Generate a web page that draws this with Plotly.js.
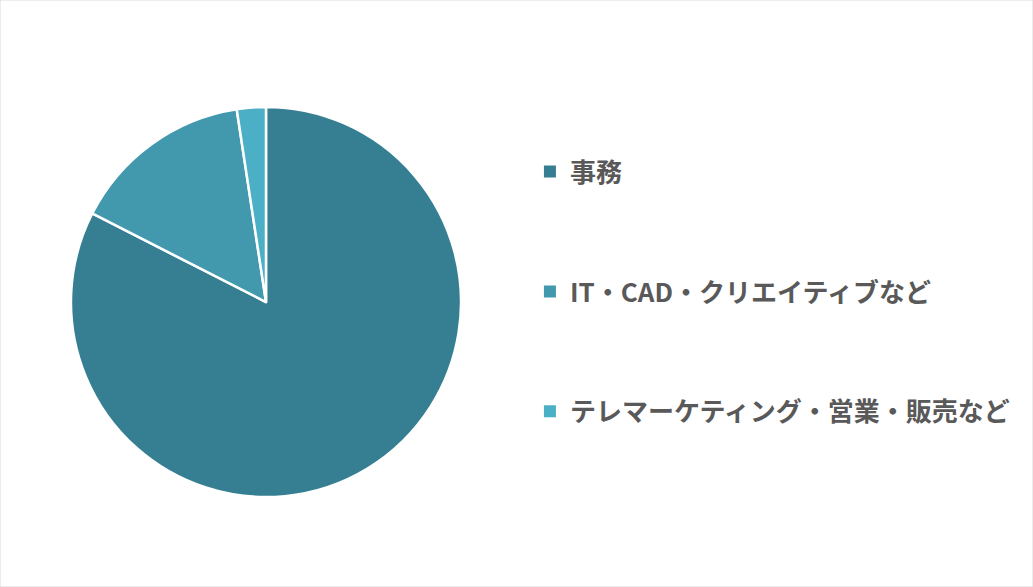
<!DOCTYPE html>
<html>
<head>
<meta charset="utf-8">
<script src="https://cdn.plot.ly/plotly-3.0.1.min.js"></script>
<style>
  html, body { margin: 0; padding: 0; background: #fff; }
  #chart { width: 1033px; height: 587px; }
</style>
</head>
<body>
<div id="chart"></div>
<script>
// slices, clockwise from 12 o'clock
const labels = ["事務", "IT・CAD・クリエイティブなど", "テレマーケティング・営業・販売など"];
const shares = [82.5, 15.1, 2.4];
const colors = ["#367f93", "#4299ae", "#4bafc6"];

const legendFont = { family: "Noto Sans CJK JP, sans-serif", size: 26, color: "#595959", weight: "bold" };

const pie = {
  type: "pie",
  labels: labels,
  values: shares,
  sort: false,
  direction: "clockwise",
  rotation: 0,
  marker: { colors: colors, line: { color: "#ffffff", width: 2.5 } },
  textinfo: "none",
  hoverinfo: "none",
  showlegend: false,
  domain: { x: [0.0687, 0.4463], y: [0.153, 0.818] }
};

// legend entries, one per slice so the gap between them can be set
const legendTraces = labels.map((name, i) => ({
  type: "scatter",
  mode: "markers",
  x: [null],
  y: [null],
  name: name,
  legendgroup: "g" + i,
  marker: { symbol: "square", size: 12, color: colors[i] },
  hoverinfo: "none"
}));

const layout = {
  width: 1033,
  height: 587,
  margin: { l: 0, r: 0, t: 0, b: 0 },
  paper_bgcolor: "#ffffff",
  plot_bgcolor: "#ffffff",
  xaxis: { visible: false, domain: [0.6, 0.61] },
  yaxis: { visible: false, domain: [0.5, 0.51] },
  showlegend: true,
  legend: {
    x: 0.513,
    y: 0.7475,
    xanchor: "left",
    yanchor: "top",
    font: legendFont,
    tracegroupgap: 83,
    itemsizing: "constant",
    bgcolor: "rgba(0,0,0,0)"
  },
  shapes: [{
    type: "rect", xref: "paper", yref: "paper",
    x0: 0, x1: 1, y0: 0, y1: 1,
    line: { color: "#d9d9d9", width: 1 }
  }]
};

Plotly.newPlot("chart", [pie].concat(legendTraces), layout, { staticPlot: true });
</script>
</body>
</html>
